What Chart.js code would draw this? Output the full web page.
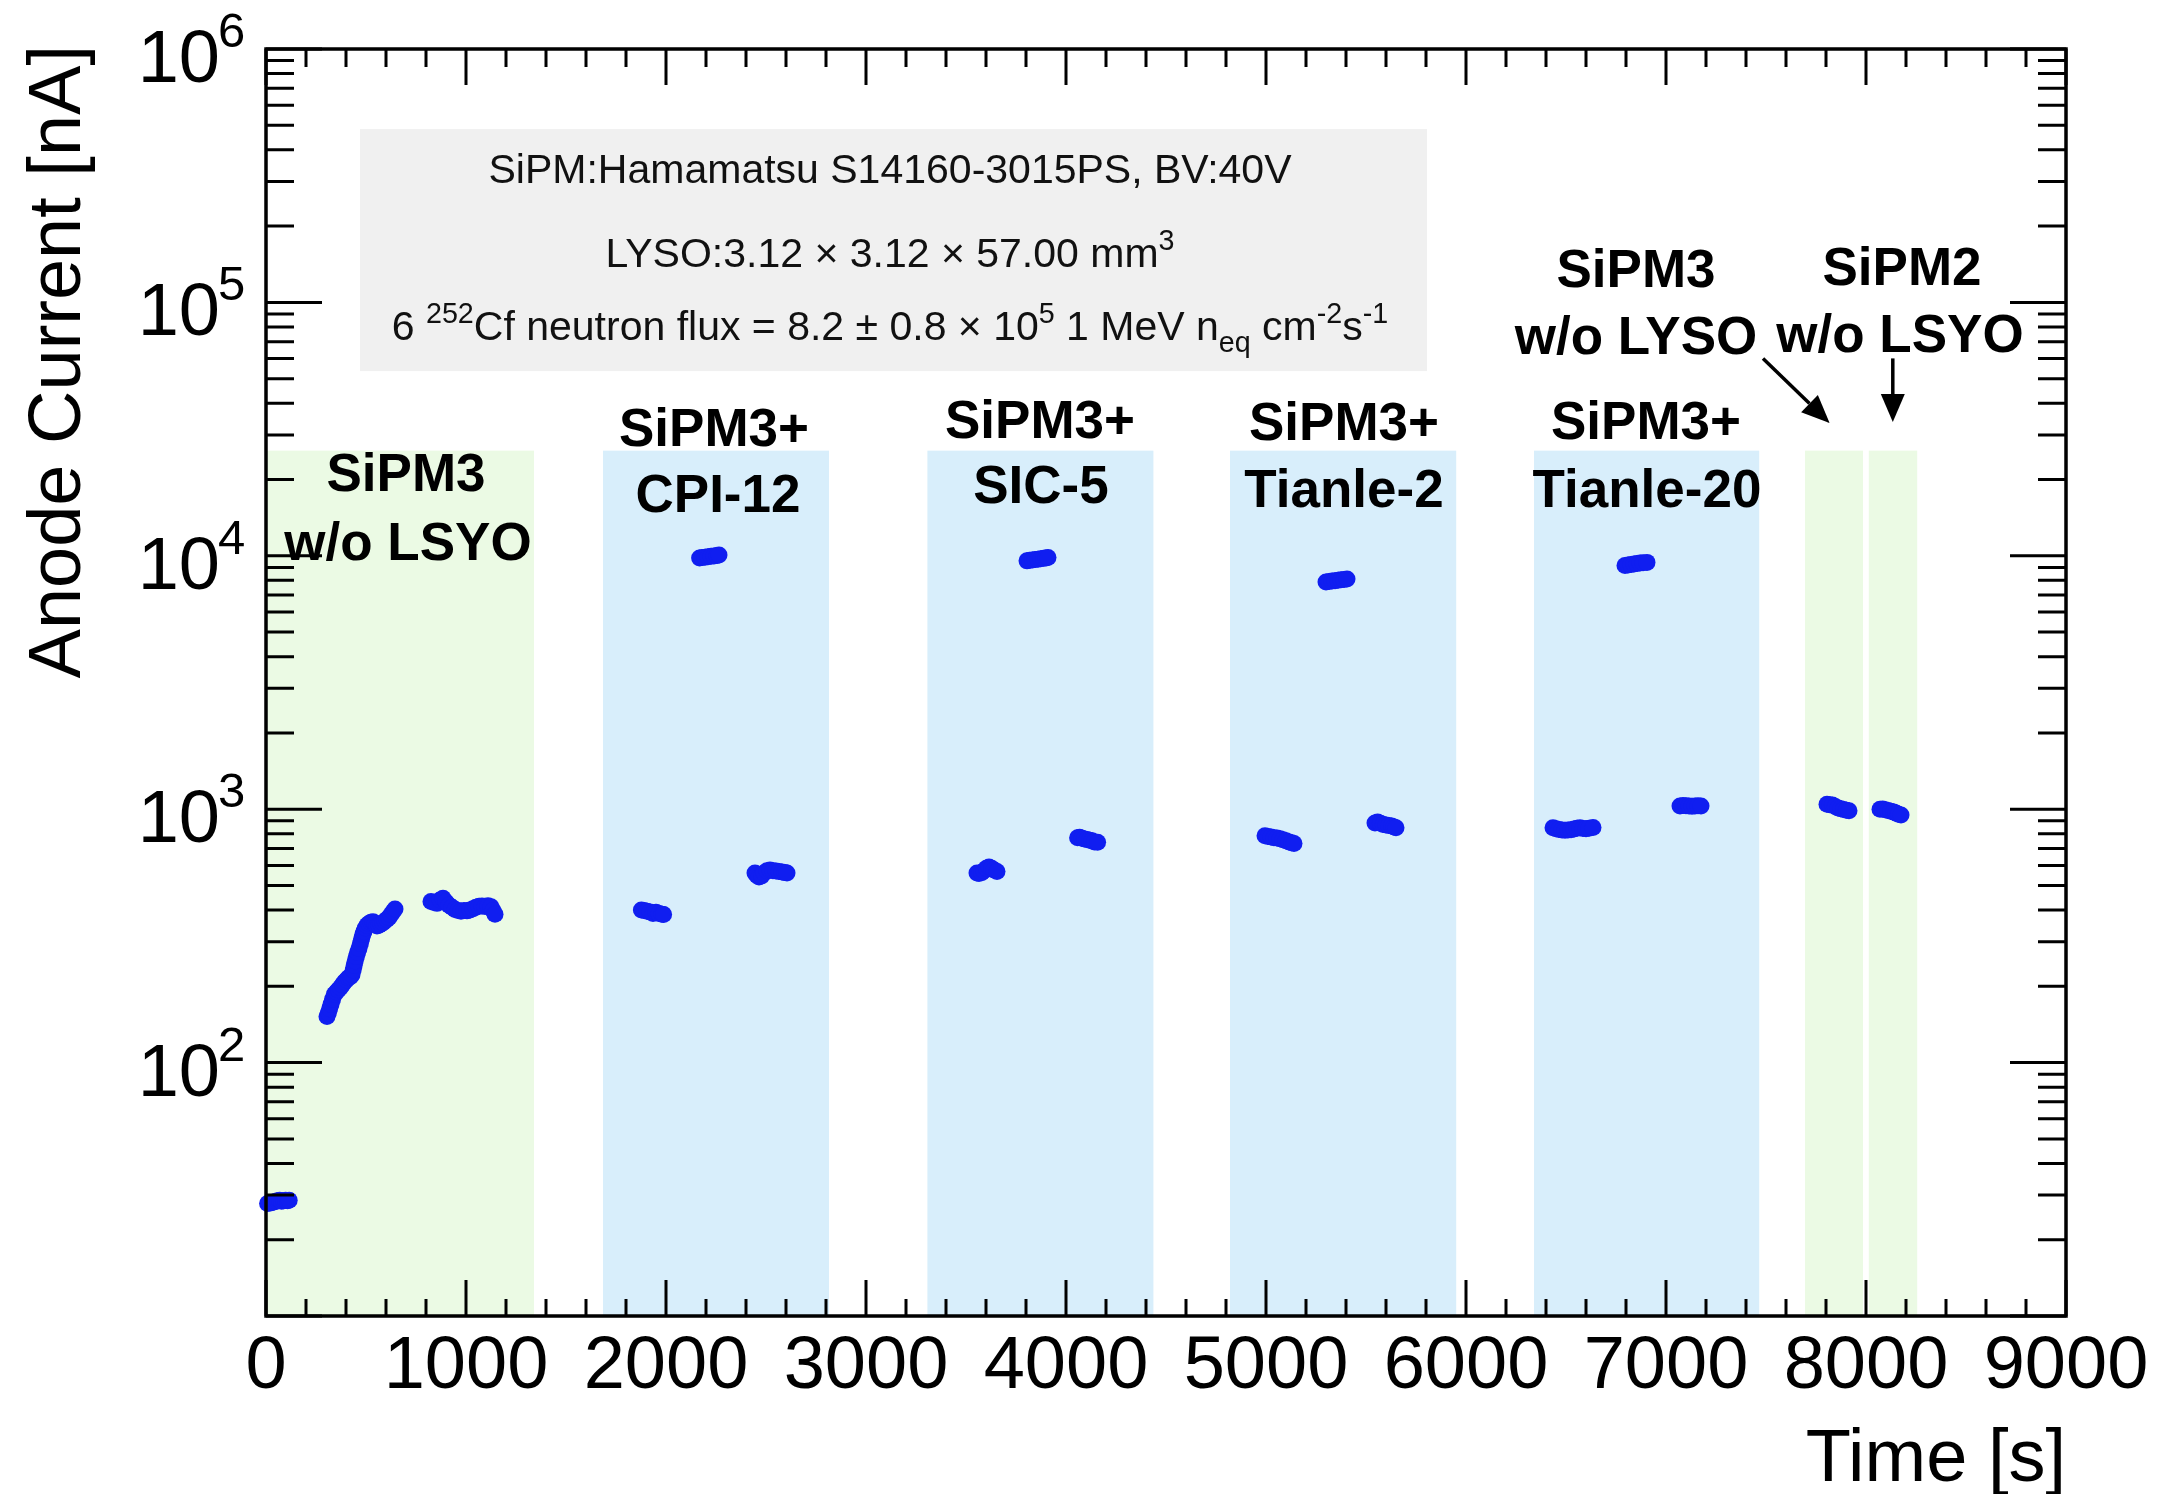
<!DOCTYPE html>
<html>
<head>
<meta charset="utf-8">
<script src="https://cdn.jsdelivr.net/npm/chart.js@4.4.1/dist/chart.umd.min.js"></script>
<style>
  html, body { margin: 0; padding: 0; background: #fff; }
  #wrap { width: 2171px; height: 1494px; }
</style>
</head>
<body>
<div id="wrap"><canvas id="c" width="2171" height="1494"></canvas></div>
<script>
// Anode current vs time (time in s, current in nA)
const timeS = [
  // SiPM3 bare, dark
  8, 18, 28, 38, 48, 58, 68, 78, 88, 98, 108, 116,
  // SiPM3 bare, source in (rising)
  305, 312, 318, 325, 333, 342, 352, 362, 372, 382, 392, 402, 412, 422, 430, 436, 441, 446, 452, 458,
  465, 472, 478, 484, 490, 497, 505, 515, 525, 535, 545, 555, 565, 575, 585, 595, 605, 615, 625, 635, 645,
  // SiPM3 bare, plateau
  825, 840, 855, 870, 885, 900, 915, 930, 945, 960, 975, 990, 1005, 1020, 1035, 1050, 1065, 1080, 1095, 1110, 1125, 1135, 1145,
  // CPI-12
  1877, 1890, 1905, 1920, 1935, 1950, 1965, 1980, 1988,
  2168, 2180, 2195, 2210, 2225, 2240, 2255, 2265,
  2445, 2455, 2465, 2478, 2490, 2505, 2520, 2535, 2550, 2565, 2580, 2595, 2605,
  // SIC-5
  3555, 3565, 3578, 3590, 3602, 3615, 3628, 3640, 3655,
  3805, 3818, 3832, 3846, 3860, 3874, 3888, 3900, 3910,
  4058, 4068, 4080, 4092, 4105, 4118, 4130, 4142, 4158,
  // Tianle-2
  4995, 5010, 5025, 5040, 5055, 5070, 5085, 5100, 5115, 5128, 5140,
  5300, 5315, 5330, 5345, 5360, 5375, 5390, 5405,
  5545, 5558, 5572, 5586, 5600, 5614, 5628, 5640, 5650,
  // Tianle-20
  6435, 6450, 6465, 6480, 6495, 6510, 6525, 6540, 6555, 6570, 6585, 6600, 6615, 6635,
  6795, 6810, 6825, 6840, 6855, 6870, 6885, 6905,
  7070, 7085, 7100, 7115, 7130, 7145, 7160, 7175,
  // SiPM3 w/o LYSO
  7805, 7818, 7832, 7846, 7860, 7874, 7888, 7902, 7915,
  // SiPM2 w/o LYSO
  8070, 8083, 8096, 8110, 8124, 8138, 8150, 8162, 8175
];
const currentNA = [
  27.8, 27.9, 28.0, 28.2, 28.3, 28.5, 28.6, 28.4, 28.5, 28.6, 28.5, 28.6,
  152, 157, 163, 170, 178, 186, 190, 194, 198, 203, 208, 212, 216, 218, 222, 232, 242, 252, 262, 272,
  282, 295, 308, 320, 330, 340, 348, 354, 358, 360, 352, 346, 348, 352, 356, 362, 368, 374, 384, 394, 404,
  432, 428, 425, 438, 445, 430, 418, 410, 402, 398, 396, 398, 397, 400, 405, 410, 414, 415, 413, 416, 412, 398, 385,
  400, 398, 396, 393, 388, 392, 388, 385, 384,
  9800, 9850, 9880, 9920, 9950, 9990, 10030, 10070,
  560, 548, 540, 545, 560, 572, 575, 572, 570, 568, 565, 562, 560,
  560, 558, 562, 572, 585, 592, 585, 575, 568,
  9550, 9600, 9630, 9660, 9700, 9740, 9780, 9810, 9840,
  772, 775, 768, 762, 760, 755, 750, 742, 740,
  785, 780, 776, 772, 770, 765, 758, 750, 742, 737, 732,
  7880, 7910, 7950, 7980, 8010, 8040, 8070, 8100,
  882, 890, 880, 870, 866, 862, 858, 850, 845,
  845, 838, 832, 828, 826, 828, 830, 835, 842, 845, 840, 838, 842, 846,
  9150, 9200, 9250, 9290, 9330, 9360, 9390, 9420,
  1030, 1035, 1032, 1030, 1028, 1030, 1032, 1030,
  1045, 1042, 1038, 1025, 1012, 1005, 998, 990, 985,
  1000, 1002, 995, 988, 982, 975, 965, 955, 948
];

// shaded run periods (s); kind: bare SiPM or SiPM + crystal
const bandStart = [0, 1685, 3307, 4820, 6340, 7695, 8014];
const bandEnd = [1340, 2815, 4437, 5951, 7466, 7985, 8256];
const bandKind = ['bare', 'crystal', 'crystal', 'crystal', 'crystal', 'bare', 'bare'];
const bandTopNA = 26000;

const xRange = [0, 9000];
const yRange = [10, 1e6];
const xTickLabels = ['0', '1000', '2000', '3000', '4000', '5000', '6000', '7000', '8000', '9000'];
const yTickExp = [2, 3, 4, 5, 6];

// run labels: text, time, log10(current) of baseline
const labelText = ['SiPM3', 'w/o LSYO', 'SiPM3+', 'CPI-12', 'SiPM3+', 'SIC-5', 'SiPM3+', 'Tianle-2',
  'SiPM3+', 'Tianle-20', 'SiPM3', 'w/o LYSO', 'SiPM2', 'w/o LSYO'];
const labelTime = [700, 710, 2240, 2260, 3870, 3875, 5390, 5390, 6900, 6905, 6850, 6850, 8180, 8170];
const labelLogI = [4.256, 3.983, 4.433, 4.173, 4.465, 4.208, 4.457, 4.193, 4.461, 4.193, 5.061, 4.796, 5.069, 4.804];

// arrows [t0, log0, t1, log1]
const arrows = [[7485, 4.779, 7818, 4.524], [8134, 4.779, 8134, 4.528]];

// info box
const infoBox = [470, 5.684, 5805, 4.729];
const infoCenterT = 3120;
const infoLogI = [5.471, 5.140, 4.852];
const infoLines = [
  [['SiPM:Hamamatsu S14160-3015PS, BV:40V', 0]],
  [['LYSO:3.12 \u00d7 3.12 \u00d7 57.00 mm', 0], ['3', 1]],
  [['6 ', 0], ['252', 1], ['Cf neutron flux = 8.2 \u00b1 0.8 \u00d7 10', 0], ['5', 1], [' 1 MeV n', 0], ['eq', -1],
   [' cm', 0], ['-2', 1], ['s', 0], ['-1', 1]]
];

const FONT = '"Liberation Sans", Arial, Helvetica, sans-serif';
const GREEN = 'rgb(235, 250, 228)';
const BLUE = 'rgb(216, 238, 251)';
const MARKER = 'rgb(16, 30, 240)';

function richText(ctx, parts, cx, baseY, size) {
  const small = size * 0.7;
  let total = 0;
  parts.forEach(([t, s]) => {
    ctx.font = `${s ? small : size}px ${FONT}`;
    total += ctx.measureText(t).width;
  });
  let xx = cx - total / 2;
  ctx.textAlign = 'left';
  parts.forEach(([t, s]) => {
    ctx.font = `${s ? small : size}px ${FONT}`;
    const dy = s === 1 ? -size * 0.42 : (s === -1 ? size * 0.3 : 0);
    ctx.fillText(t, xx, baseY + dy);
    xx += ctx.measureText(t).width;
  });
}

const rootStyle = {
  id: 'rootStyle',
  beforeDatasetsDraw(chart) {
    const { ctx, scales: { x, y } } = chart;
    ctx.save();
    // bands
    const yTop = y.getPixelForValue(bandTopNA), yBot = y.getPixelForValue(yRange[0]);
    bandStart.forEach((s, i) => {
      const x0 = x.getPixelForValue(s), x1 = x.getPixelForValue(bandEnd[i]);
      ctx.fillStyle = bandKind[i] === 'bare' ? GREEN : BLUE;
      ctx.fillRect(x0, yTop, x1 - x0, yBot - yTop);
    });
    // info box
    const bx0 = x.getPixelForValue(infoBox[0]), by0 = y.getPixelForValue(10 ** infoBox[1]);
    const bx1 = x.getPixelForValue(infoBox[2]), by1 = y.getPixelForValue(10 ** infoBox[3]);
    ctx.fillStyle = 'rgb(240, 240, 240)';
    ctx.fillRect(bx0, by0, bx1 - bx0, by1 - by0);
    ctx.fillStyle = '#111';
    ctx.textBaseline = 'alphabetic';
    infoLines.forEach((parts, i) => {
      richText(ctx, parts, x.getPixelForValue(infoCenterT), y.getPixelForValue(10 ** infoLogI[i]), 41);
    });
    ctx.restore();
  },
  afterDatasetsDraw(chart) {
    const { ctx, chartArea: a, scales: { x, y } } = chart;
    ctx.save();
    ctx.strokeStyle = '#000';
    ctx.fillStyle = '#000';
    // ticks
    ctx.lineWidth = 3;
    ctx.beginPath();
    for (let v = xRange[0]; v <= xRange[1]; v += 200) {
      const px = x.getPixelForValue(v);
      const major = v % 1000 === 0;
      ctx.moveTo(px, a.bottom); ctx.lineTo(px, a.bottom - (major ? 36 : 17));
      ctx.moveTo(px, a.top); ctx.lineTo(px, a.top + (major ? 36 : 18));
    }
    for (let e = 1; e <= 6; e++) {
      for (let m = 1; m <= 9; m++) {
        const v = m * 10 ** e;
        if (v > yRange[1]) break;
        const py = y.getPixelForValue(v);
        const len = m === 1 ? 56 : 28;
        ctx.moveTo(a.left, py); ctx.lineTo(a.left + len, py);
        ctx.moveTo(a.right, py); ctx.lineTo(a.right - len, py);
      }
    }
    ctx.stroke();
    // frame
    ctx.lineWidth = 3.5;
    ctx.strokeRect(a.left, a.top, a.right - a.left, a.bottom - a.top);

    // x tick labels
    ctx.font = `74px ${FONT}`;
    ctx.textAlign = 'center';
    ctx.textBaseline = 'alphabetic';
    xTickLabels.forEach((s, i) => {
      ctx.fillText(s, x.getPixelForValue(i * 1000), a.bottom + 72);
    });
    // y tick labels 10^n
    yTickExp.forEach(e => {
      const py = y.getPixelForValue(10 ** e);
      ctx.font = `74px ${FONT}`;
      ctx.textAlign = 'right';
      ctx.fillText('10', 220, py + 33);
      ctx.font = `49px ${FONT}`;
      ctx.textAlign = 'left';
      ctx.fillText(String(e), 218, py - 2);
    });
    // axis titles
    ctx.font = `74px ${FONT}`;
    ctx.textAlign = 'right';
    ctx.fillText('Time [s]', a.right, 1481);
    ctx.save();
    ctx.translate(80, 45);
    ctx.rotate(-Math.PI / 2);
    ctx.textAlign = 'right';
    ctx.fillText('Anode Current [nA]', 0, 0);
    ctx.restore();

    // run labels
    ctx.font = `bold 53px ${FONT}`;
    ctx.textAlign = 'center';
    labelText.forEach((s, i) => {
      ctx.fillText(s, x.getPixelForValue(labelTime[i]), y.getPixelForValue(10 ** labelLogI[i]));
    });
    // arrows
    ctx.lineWidth = 3.5;
    arrows.forEach(([t0, l0, t1, l1]) => {
      const x0 = x.getPixelForValue(t0), y0 = y.getPixelForValue(10 ** l0);
      const x1 = x.getPixelForValue(t1), y1 = y.getPixelForValue(10 ** l1);
      const ang = Math.atan2(y1 - y0, x1 - x0);
      const hl = 28, hw = 12;
      const bx = x1 - hl * Math.cos(ang), by = y1 - hl * Math.sin(ang);
      ctx.beginPath();
      ctx.moveTo(x0, y0); ctx.lineTo(bx, by);
      ctx.stroke();
      ctx.beginPath();
      ctx.moveTo(x1, y1);
      ctx.lineTo(bx + hw * Math.sin(ang), by - hw * Math.cos(ang));
      ctx.lineTo(bx - hw * Math.sin(ang), by + hw * Math.cos(ang));
      ctx.closePath();
      ctx.fill();
    });
    ctx.restore();
  }
};

new Chart(document.getElementById('c'), {
  type: 'scatter',
  data: {
    datasets: [{
      data: timeS.map((t, i) => ({ x: t, y: currentNA[i] })),
      pointRadius: 8.5,
      pointHoverRadius: 8.5,
      backgroundColor: MARKER,
      borderWidth: 0,
      clip: false
    }]
  },
  options: {
    responsive: false,
    animation: false,
    devicePixelRatio: 1,
    events: [],
    layout: { padding: { left: 266, right: 105, top: 49, bottom: 178 } },
    plugins: { legend: { display: false }, tooltip: { enabled: false } },
    scales: {
      x: { type: 'linear', min: xRange[0], max: xRange[1], display: false },
      y: { type: 'logarithmic', min: yRange[0], max: yRange[1], display: false }
    }
  },
  plugins: [rootStyle]
});
</script>
</body>
</html>
